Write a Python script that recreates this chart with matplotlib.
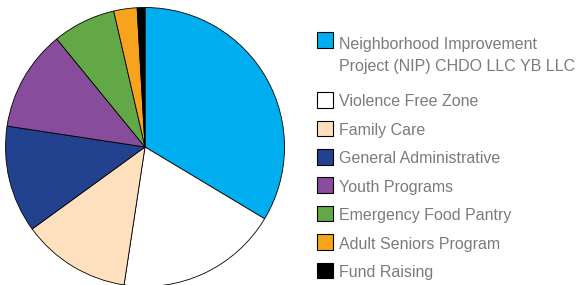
import matplotlib
matplotlib.use("Agg")
import matplotlib.pyplot as plt
from matplotlib.patches import Rectangle

plt.rcParams["font.family"] = ["Liberation Sans", "DejaVu Sans"]

# 支出占比（从图上估读，单位 %）
labels = [
    "Neighborhood Improvement\nProject (NIP) CHDO LLC YB LLC",
    "Violence Free Zone",
    "Family Care",
    "General Administrative",
    "Youth Programs",
    "Emergency Food Pantry",
    "Adult Seniors Program",
    "Fund Raising",
]
shares = [33.6, 18.8, 12.6, 12.4, 11.7, 7.3, 2.7, 0.9]
colors = ["#00aeef", "#ffffff", "#fee0bf", "#22418e",
          "#874c9b", "#62a846", "#f8a31e", "#000000"]

W, H = 588, 285
fig = plt.figure(figsize=(W / 100, H / 100), dpi=100)
ax = fig.add_axes([0, 0, 1, 1])

# 饼图：从顶部开始顺时针
ax.pie(shares, colors=colors, startangle=90, counterclock=False,
       center=(145, H - 147), radius=139.5, frame=True,
       wedgeprops=dict(edgecolor="black", linewidth=0.6))
ax.set_xlim(0, W)
ax.set_ylim(0, H)
ax.set_aspect("equal")
ax.axis("off")

# 图例（手工排布，y 为自上而下的像素）
txt_color = "#7a7b7e"
row_y = [40] + [100 + 28.4 * i for i in range(len(labels) - 1)]
for i, (lab, col) in enumerate(zip(labels, colors)):
    cy = row_y[i]
    ax.add_patch(Rectangle((317, H - cy - 7.75), 15.5, 15.5,
                           facecolor=col, edgecolor="black", linewidth=0.8))
    lines = lab.split("\n")
    base = cy + (9.5 if len(lines) > 1 else 6.5)
    for j, ln in enumerate(lines):
        ax.text(339, H - (base + 21 * j), ln, fontsize=11.5,
                color=txt_color, va="baseline", ha="left")

fig.savefig("out.png", dpi=100)
